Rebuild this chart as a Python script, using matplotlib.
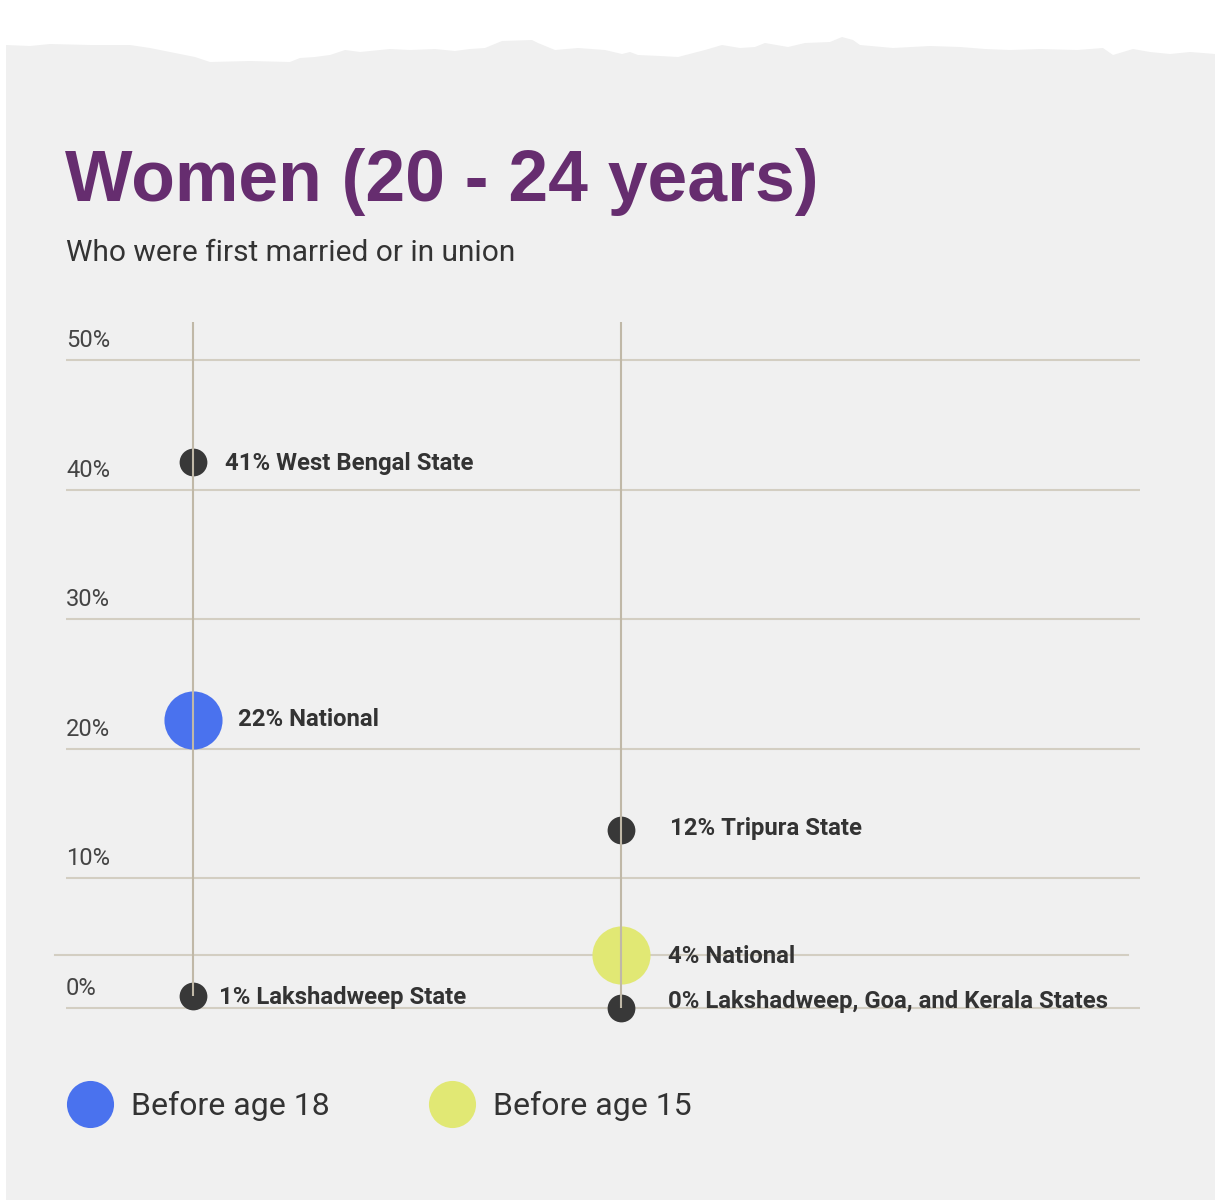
"""
Dot chart: women 20-24 first married or in union before age 18 / 15
"""

import numpy as np
import matplotlib
matplotlib.use('Agg')
import matplotlib.pyplot as plt
from matplotlib.patches import Polygon
from matplotlib.transforms import blended_transform_factory

###############################################################################
# Data
title = 'Women (20 - 24 years)'
subtitle = 'Who were first married or in union'

groups = ['Before age 18', 'Before age 15']

# Before age 18
labels_18 = ['41% West Bengal State', '22% National', '1% Lakshadweep State']
values_18 = [42.1, 22.2, 0.9]

# Before age 15
labels_15 = ['12% Tripura State', '4% National', '0% Lakshadweep, Goa, and Kerala States']
values_15 = [13.7, 4.1, 0.0]

yticks = [0, 10, 20, 30, 40, 50]
ytick_labels = ['0%', '10%', '20%', '30%', '40%', '50%']

###############################################################################
# Style
W, H = 1221, 1200
bg_grey = '#f0f0f0'
purple = '#662d6f'
txt = '#333333'
dark = '#383838'
grid_c = '#d3cec2'
stem_c = '#c0b8a7'
group_colors = ['#4a72ee', '#e1e874']

# torn paper edge (pixels), decoration only
edge = [(6, 45), (30, 46), (50, 44), (90, 45), (130, 45), (150, 48), (170, 52),
        (195, 57), (210, 62), (250, 61), (290, 62), (300, 58), (315, 57), (330, 55),
        (345, 50), (360, 52), (390, 49), (410, 50), (435, 49), (455, 51), (470, 49),
        (485, 48), (502, 41), (532, 40), (538, 43), (555, 50), (578, 48), (605, 50),
        (622, 54), (630, 52), (638, 55), (660, 56), (678, 57), (705, 50), (722, 45),
        (740, 48), (755, 47), (765, 43), (788, 47), (805, 43), (830, 42), (842, 37),
        (853, 40), (860, 45), (893, 48), (930, 46), (960, 47), (985, 49), (1010, 50),
        (1040, 49), (1077, 50), (1103, 48), (1113, 55), (1133, 49), (1150, 52),
        (1170, 54), (1190, 52), (1203, 53), (1215, 54)]

fig = plt.figure(figsize=(W / 100, H / 100), dpi=100)
fig.patch.set_facecolor('white')

# background axes in pixel coords
bg = fig.add_axes([0, 0, 1, 1])
bg.set_xlim(0, W)
bg.set_ylim(H, 0)
bg.axis('off')
poly = edge + [(1215, H), (6, H)]
bg.add_patch(Polygon(poly, closed=True, facecolor=bg_grey, edgecolor='none'))

bg.text(65, 201, title, fontsize=51.5, fontweight='bold', color=purple,
        family='Liberation Sans', va='baseline', ha='left')
bg.text(66, 261, subtitle, fontsize=21.5, color=txt, family='Roboto',
        va='baseline', ha='left')

# legend
leg_x = [90, 452]
for k in range(2):
    bg.scatter(leg_x[k], 1104, s=1150, color=group_colors[k], linewidths=0)
    bg.text(leg_x[k] + 41, 1115, groups[k], fontsize=23, color=txt,
            family='Roboto', va='baseline', ha='left')

###############################################################################
# Chart axes: 0% at y=1008 px, 50% at y=360 px, categories at x=193 and 621 px
px_pct = (1008 - 360) / 50.0
px_cat = 621 - 193
ax = fig.add_axes([66 / W, (H - 1030) / H, (1140 - 66) / W, (1030 - 310) / H])
ax.set_facecolor('none')
ax.set_xlim(-(193 - 66) / px_cat, 1 + (1140 - 621) / px_cat)
ax.set_ylim(-(1030 - 1008) / px_pct, (1008 - 310) / px_pct)
ax.axis('off')

for t in yticks:
    ax.axhline(t, color=grid_c, lw=1.5, zorder=1)

trans = blended_transform_factory(ax.transAxes, ax.transData)
for t, s in zip(yticks, ytick_labels):
    ax.annotate(s, (0, t), xycoords=trans, xytext=(0, 13), textcoords='offset pixels',
                fontsize=17, color='#444444', family='Roboto', va='baseline', ha='left')

top = (1008 - 322) / px_pct

# label offsets in pixels (dx, dy of text baseline)
offs = [[(32, -8), (45, -6), (26, -8)],
        [(49, -5), (47, -8), (47, 0)]]

for g, (vals, labs) in enumerate([(values_18, labels_18), (values_15, labels_15)]):
    # national reference line for the second group
    for v, lab in zip(vals, labs):
        if 'National' in lab and g == 1:
            ax.plot([-(193 - 55) / px_cat, (1128 - 193) / px_cat], [v, v],
                    color=grid_c, lw=1.5, zorder=1, clip_on=False)
    ax.vlines(g, min(vals), top, color=stem_c, lw=1.5, zorder=4)
    for k, (v, lab) in enumerate(zip(vals, labs)):
        if 'National' in lab:
            ax.scatter(g, v, s=1750, color=group_colors[g], linewidths=0, zorder=3)
        else:
            ax.scatter(g, v, s=400, color=dark, linewidths=0, zorder=3)
        dx, dy = offs[g][k]
        ax.annotate(lab, (g, v), xytext=(dx, dy), textcoords='offset pixels',
                    fontsize=17.2, fontweight='bold', color=txt, family='Roboto',
                    va='baseline', ha='left', zorder=5)

plt.savefig('out.png', dpi=100, facecolor=fig.get_facecolor())
plt.close()
